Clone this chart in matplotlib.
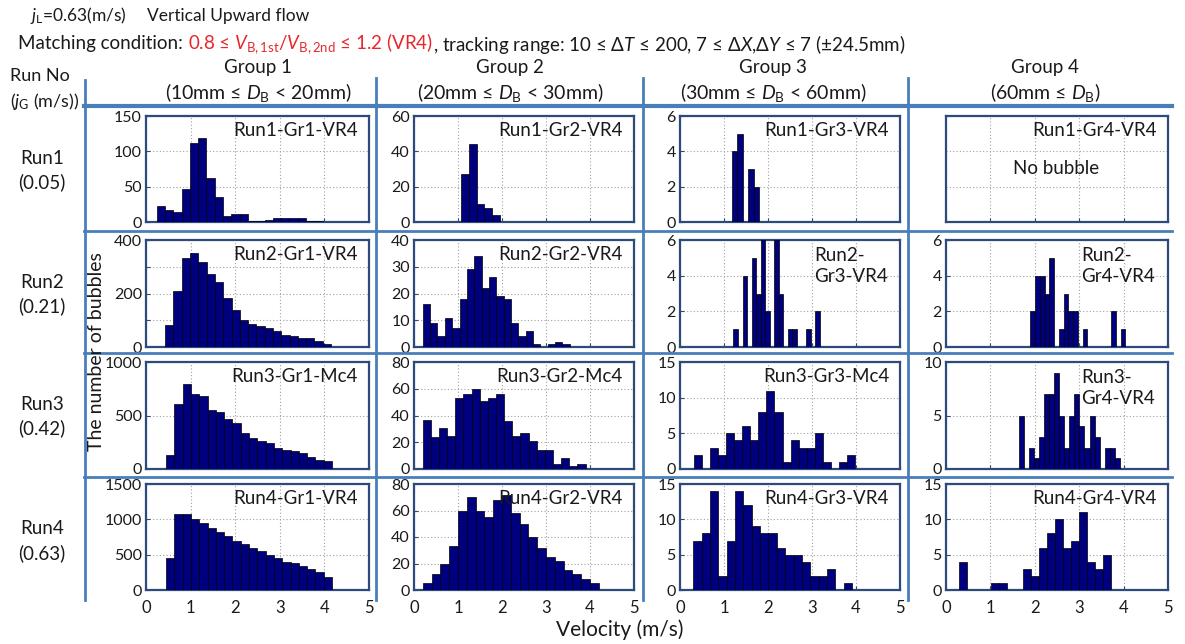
import matplotlib
matplotlib.use("Agg")
import matplotlib.pyplot as plt
from matplotlib.transforms import IdentityTransform
from matplotlib.lines import Line2D

# ---------------- data ----------------
runs = ["Run1", "Run2", "Run3", "Run4"]
jg_values = ["(0.05)", "(0.21)", "(0.42)", "(0.63)"]
groups = ["Group 1", "Group 2", "Group 3", "Group 4"]
group_ranges = [r"(10mm ≤ $D_\mathrm{B}$ < 20mm)", r"(20mm ≤ $D_\mathrm{B}$ < 30mm)",
                r"(30mm ≤ $D_\mathrm{B}$ < 60mm)", r"(60mm ≤ $D_\mathrm{B}$)"]
x_ticks = [0, 1, 2, 3, 4, 5]

# histogram: first bin edge, bin width, counts
r1g1_start, r1g1_width = 0.24, 0.186
r1g1_counts = [22, 17, 14, 47, 112, 119, 62, 35, 9, 12, 12, 2, 1, 3, 5, 5, 5, 5, 1, 1]
r1g2_start, r1g2_width = 1.07, 0.176
r1g2_counts = [27, 44, 10, 8, 4]
r1g3_start, r1g3_width = 1.18, 0.125
r1g3_counts = [4, 5, 0, 3, 2]
r1g4_counts = []

r2g1_start, r2g1_width = 0.43, 0.186
r2g1_counts = [81, 211, 331, 352, 317, 274, 242, 184, 140, 102, 86, 77, 71, 59, 45, 42, 34, 34, 24, 12]
r2g2_start, r2g2_width = 0.20, 0.167
r2g2_counts = [16, 9, 4, 11, 7, 18, 29, 34, 22, 26, 19, 18, 9, 4, 6, 1, 0, 1, 2, 1]
r2g3_start, r2g3_width = 1.215, 0.103
r2g3_counts = [1, 0, 4, 0, 5, 3, 6, 2, 0, 6, 3, 0, 1, 1, 0, 0, 1, 0, 2]
r2g4_start, r2g4_width = 1.90, 0.107
r2g4_counts = [2, 4, 4, 3, 5, 0, 1, 3, 2, 2, 0, 1, 0, 0, 0, 0, 0, 2, 0, 1]

r3g1_start, r3g1_width = 0.45, 0.186
r3g1_counts = [134, 610, 793, 698, 686, 549, 530, 470, 427, 335, 287, 265, 244, 195, 180, 168, 152, 110, 82, 73]
r3g2_start, r3g2_width = 0.20, 0.185
r3g2_counts = [37, 24, 31, 25, 53, 56, 60, 51, 53, 56, 36, 25, 27, 21, 14, 14, 4, 8, 2, 4]
r3g3_start, r3g3_width = 0.317, 0.183
r3g3_counts = [2, 0, 3, 2, 5, 4, 6, 4, 8, 11, 8, 1, 4, 3, 3, 5, 1, 0, 1, 2]
r3g4_start, r3g4_width = 1.65, 0.113
r3g4_counts = [5, 0, 2, 1, 3, 7, 7, 9, 5, 2, 5, 7, 4, 2, 5, 3, 0, 2, 2, 1]

r4g1_start, r4g1_width = 0.45, 0.186
r4g1_counts = [450, 1070, 1080, 1000, 950, 880, 820, 760, 700, 650, 600, 550, 500, 450, 400, 380, 340, 300, 250, 180]
r4g2_start, r4g2_width = 0.20, 0.20
r4g2_counts = [5, 12, 20, 33, 60, 70, 60, 55, 68, 72, 58, 50, 40, 32, 25, 22, 15, 12, 8, 5]
r4g3_start, r4g3_width = 0.30, 0.19
r4g3_counts = [7, 8, 14, 2, 7, 14, 12, 9, 8, 8, 6, 5, 5, 4, 2, 2, 3, 0, 1]
r4g4_start, r4g4_width = 0.30, 0.18
r4g4_counts = [4, 0, 0, 0, 1, 1, 0, 0, 3, 2, 6, 8, 10, 6, 7, 11, 4, 3, 5]

panel_names = [["Run1-Gr1-VR4", "Run1-Gr2-VR4", "Run1-Gr3-VR4", "Run1-Gr4-VR4"],
               ["Run2-Gr1-VR4", "Run2-Gr2-VR4", "Run2-\nGr3-VR4", "Run2-\nGr4-VR4"],
               ["Run3-Gr1-Mc4", "Run3-Gr2-Mc4", "Run3-Gr3-Mc4", "Run3-\nGr4-VR4"],
               ["Run4-Gr1-VR4", "Run4-Gr2-VR4", "Run4-Gr3-VR4", "Run4-Gr4-VR4"]]

hist_data = [[(r1g1_start, r1g1_width, r1g1_counts), (r1g2_start, r1g2_width, r1g2_counts),
              (r1g3_start, r1g3_width, r1g3_counts), (0, 0.2, r1g4_counts)],
             [(r2g1_start, r2g1_width, r2g1_counts), (r2g2_start, r2g2_width, r2g2_counts),
              (r2g3_start, r2g3_width, r2g3_counts), (r2g4_start, r2g4_width, r2g4_counts)],
             [(r3g1_start, r3g1_width, r3g1_counts), (r3g2_start, r3g2_width, r3g2_counts),
              (r3g3_start, r3g3_width, r3g3_counts), (r3g4_start, r3g4_width, r3g4_counts)],
             [(r4g1_start, r4g1_width, r4g1_counts), (r4g2_start, r4g2_width, r4g2_counts),
              (r4g3_start, r4g3_width, r4g3_counts), (r4g4_start, r4g4_width, r4g4_counts)]]

# y axis: (ymax, tick step, labelled ticks)
y_axes = [[(150, 50, [0, 50, 100, 150]), (60, 20, [0, 20, 40, 60]), (6, 2, [0, 2, 4, 6]), (6, 2, [])],
          [(400, 100, [0, 200, 400]), (40, 10, [0, 10, 20, 30, 40]), (6, 2, [0, 2, 4, 6]), (6, 2, [0, 2, 4, 6])],
          [(1000, 500, [0, 500, 1000]), (80, 20, [0, 20, 40, 60, 80]), (15, 5, [0, 5, 10, 15]), (10, 5, [0, 5, 10])],
          [(1500, 500, [0, 500, 1000, 1500]), (80, 20, [0, 20, 40, 60, 80]), (15, 5, [0, 5, 10, 15]), (15, 5, [0, 5, 10, 15])]]

# ---------------- figure ----------------
plt.rcParams['font.family'] = ['Lato', 'DejaVu Sans']
plt.rcParams['mathtext.fontset'] = 'custom'
plt.rcParams['mathtext.rm'] = 'Lato'
plt.rcParams['mathtext.it'] = 'Lato:italic'
plt.rcParams['mathtext.bf'] = 'Lato:bold'

W, H = 1185, 644
fig = plt.figure(figsize=(W / 100, H / 100), dpi=100)

BAR = '#00007f'
FRAME = '#2c4a7a'
TABLE = '#4a7ebb'
TXT = '#1a1a1a'

col_x = [(146, 369), (414, 634), (680, 900), (946, 1168)]
row_y = [(116, 222), (240, 347), (362, 469), (484, 590)]


def px_axes(x0, y0, x1, y1):
    return fig.add_axes([x0 / W, 1 - y1 / H, (x1 - x0) / W, (y1 - y0) / H])


for r in range(4):
    for c in range(4):
        x0, x1 = col_x[c]
        y0, y1 = row_y[r]
        ax = px_axes(x0, y0, x1, y1)
        start, width, counts = hist_data[r][c]
        lefts = [start + i * width for i in range(len(counts))]
        if counts:
            ax.bar(lefts, counts, width=width, align='edge', color=BAR,
                   edgecolor='black', linewidth=0.5, zorder=3)
        ymax, step, labelled = y_axes[r][c]
        ax.set_xlim(0, 5)
        ax.set_ylim(0, ymax)
        ax.set_xticks(x_ticks)
        yt = list(range(0, ymax + 1, step))
        ax.set_yticks(yt)
        ax.set_yticklabels([str(v) if v in labelled else '' for v in yt])
        if r == 3:
            ax.set_xticklabels([str(v) for v in x_ticks])
        else:
            ax.set_xticklabels([])
        ax.grid(True, linestyle=(0, (1, 2)), color='#a0a0a0', linewidth=0.8, zorder=0)
        ax.tick_params(direction='in', length=3, width=0.8, colors=FRAME,
                       labelcolor=TXT, labelsize=11.5, pad=3)
        ax.tick_params(axis='x', pad=7, labelsize=12)
        if r == 0 and c == 3:
            ax.set_yticklabels([])
            ax.tick_params(axis='y', length=0)
        for s in ax.spines.values():
            s.set_color(FRAME)
            s.set_linewidth(1.6)
        name = panel_names[r][c]
        if '\n' in name:
            ax.text(0.61, 0.93, name, transform=ax.transAxes, ha='left', va='top',
                    fontsize=13.5, color=TXT, linespacing=1.25, zorder=5)
        else:
            ax.text(0.95, 0.86, name, transform=ax.transAxes, ha='right', va='center',
                    fontsize=13.5, color=TXT, zorder=5)
        if r == 0 and c == 3:
            ax.text(0.3, 0.5, "No bubble", transform=ax.transAxes, ha='left', va='center',
                    fontsize=13.5, color=TXT)

# ---------------- table lines ----------------
def hline(y, x0, x1, lw=2.0):
    fig.add_artist(Line2D([x0 / W, x1 / W], [1 - y / H, 1 - y / H], color=TABLE, lw=lw,
                          transform=fig.transFigure))


def vline(x, y0, y1, lw=2.0):
    fig.add_artist(Line2D([x / W, x / W], [1 - y0 / H, 1 - y1 / H], color=TABLE, lw=lw,
                          transform=fig.transFigure))


hline(106, 84, 1172, lw=3.0)
for yy in [231, 353, 477]:
    hline(yy, 84, 1172, lw=2.0)
vline(85, 80, 600)
for xx in [376, 643, 908]:
    vline(xx, 78, 600)

# ---------------- texts ----------------
renderer = fig.canvas.get_renderer()


def seq_text(x, y, parts, size, gap=0):
    for s, col in parts:
        t = fig.text(x, H - y, s, color=col, fontsize=size, va='center', ha='left',
                     transform=IdentityTransform())
        bb = t.get_window_extent(renderer)
        x = bb.x1 + gap


seq_text(30, 16, [(r"$j_\mathrm{L}$=0.63(m/s)", TXT), ("Vertical Upward flow", TXT)], 12.5, gap=20)

seq_text(18, 44, [("Matching condition: ", TXT),
                  (r"0.8 ≤ $V_\mathrm{B,1st}$/$V_\mathrm{B,2nd}$ ≤ 1.2 (VR4)", '#e8262b'),
                  (r", tracking range: 10 ≤ $\Delta T$ ≤ 200, 7 ≤ $\Delta X$,$\Delta Y$ ≤ 7 (±24.5mm)", TXT)],
         13.5)

group_cx = [258, 510, 773, 1045]
for g, cx in enumerate(group_cx):
    fig.text(cx / W, 1 - 68 / H, groups[g], fontsize=13.5, ha='center', va='center', color=TXT)
    fig.text(cx / W, 1 - 92 / H, group_ranges[g], fontsize=14, ha='center', va='center', color=TXT)

fig.text(10 / W, 1 - 76 / H, "Run No", fontsize=13, ha='left', va='center', color=TXT)
fig.text(10 / W, 1 - 101 / H, r"($j_\mathrm{G}$ (m/s))", fontsize=13, ha='left', va='center', color=TXT)

run_cy = [170, 294, 416, 541]
for r in range(4):
    fig.text(42 / W, 1 - (run_cy[r] - 12) / H, runs[r], fontsize=13.5, ha='center', va='center', color=TXT)
    fig.text(42 / W, 1 - (run_cy[r] + 12) / H, jg_values[r], fontsize=13.5, ha='center', va='center', color=TXT)

fig.text(97 / W, 1 - 352 / H, "The number of bubbles", fontsize=14, rotation=90,
         ha='center', va='center', color=TXT)
fig.text(620 / W, 1 - 630 / H, "Velocity (m/s)", fontsize=15, ha='center', va='center', color=TXT)

fig.savefig("out.png", dpi=100)
